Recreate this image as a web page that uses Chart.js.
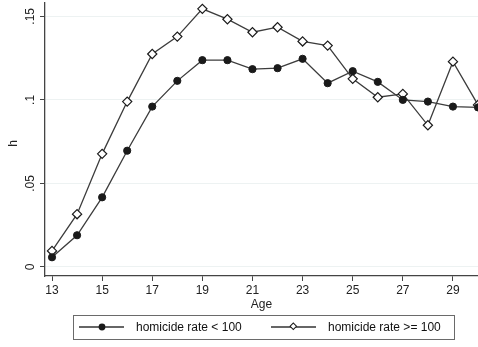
<!DOCTYPE html>
<html>
<head>
<meta charset="utf-8">
<script src="https://cdn.jsdelivr.net/npm/chart.js@4"></script>
<style>
  html, body { margin: 0; padding: 0; background: #fff; }
  #wrap { position: relative; width: 478px; height: 347px; overflow: hidden; }
  #legend {
    position: absolute; left: 73px; top: 315px; width: 382px; height: 25px;
    border: 1.5px solid #6a6a6a; box-sizing: border-box;
    font: 12px "Liberation Sans", Arial, sans-serif; color: #111;
  }
  #legend .item { position: absolute; top: 0; height: 22px; display: flex; align-items: center; }
  #legend svg { margin-right: 12px; }
</style>
</head>
<body>
<div id="wrap">
  <canvas id="chart" width="478" height="347"></canvas>
  <div id="legend"></div>
</div>
<script>
// ================= DATA =================
const ages = [13, 14, 15, 16, 17, 18, 19, 20, 21, 22, 23, 24, 25, 26, 27, 28, 29, 30];
const lowRate = [0.0058, 0.019, 0.0417, 0.0696, 0.096, 0.1114, 0.1238, 0.1238, 0.1184, 0.119,
                 0.1246, 0.110, 0.1172, 0.1108, 0.100, 0.099, 0.096, 0.0955];
const highRate = [0.0096, 0.0316, 0.0677, 0.099, 0.1275, 0.1379, 0.1545, 0.1483, 0.1405, 0.1435,
                  0.135, 0.1325, 0.1126, 0.1016, 0.1036, 0.0848, 0.1229, 0.097];
const xTicks = [13, 15, 17, 19, 21, 23, 25, 27, 29];
const yTicks = [0, 0.05, 0.1, 0.15];
const yTickLabels = ["0", ".05", ".1", ".15"];
const seriesNames = ["homicide rate < 100", "homicide rate >= 100"];

const FONT = '"Liberation Sans", Arial, sans-serif';
const LINE = "#3c3c3c";
const INK = "#1a1a1a";

// ================= ROTATED Y LABELS =================
const yLabelsPlugin = {
  id: "yLabels",
  afterDraw(chart) {
    const ctx = chart.ctx;
    const y = chart.scales.y;
    ctx.save();
    ctx.fillStyle = "#222";
    ctx.font = "12px " + FONT;
    ctx.textAlign = "center";
    ctx.textBaseline = "middle";
    yTicks.forEach((v, i) => {
      ctx.save();
      ctx.translate(31, y.getPixelForValue(v));
      ctx.rotate(-Math.PI / 2);
      ctx.fillText(yTickLabels[i], 0, 0);
      ctx.restore();
    });
    ctx.translate(14, (y.top + y.bottom) / 2 + 4);
    ctx.rotate(-Math.PI / 2);
    ctx.fillText("h", 0, 0);
    ctx.restore();
  }
};

// ================= CHART =================
new Chart(document.getElementById("chart"), {
  type: "line",
  data: {
    datasets: [
      {
        label: seriesNames[0],
        data: ages.map((a, i) => ({ x: a, y: lowRate[i] })),
        borderColor: LINE,
        borderWidth: 1.3,
        pointStyle: "circle",
        pointRadius: 3.6,
        pointBackgroundColor: INK,
        pointBorderColor: INK,
        pointBorderWidth: 1,
        clip: false
      },
      {
        label: seriesNames[1],
        data: ages.map((a, i) => ({ x: a, y: highRate[i] })),
        borderColor: LINE,
        borderWidth: 1.3,
        pointStyle: "rectRot",
        pointRadius: 4.6,
        pointBackgroundColor: "#fff",
        pointBorderColor: INK,
        pointBorderWidth: 1.2,
        clip: false
      }
    ]
  },
  options: {
    responsive: false,
    animation: false,
    layout: { autoPadding: false, padding: { top: 3, right: 0, bottom: 35, left: 0 } },
    plugins: { legend: { display: false }, tooltip: { enabled: false } },
    scales: {
      x: {
        type: "linear",
        min: 12.72,
        max: 30,
        afterBuildTicks: s => { s.ticks = xTicks.map(v => ({ value: v })); },
        afterFit: s => { s.height = 36; s.paddingLeft = 0; s.paddingRight = 0; },
        ticks: { color: "#222", font: { family: FONT, size: 12 }, padding: 2, maxRotation: 0 },
        grid: { drawOnChartArea: false, drawTicks: true, tickLength: 5, tickColor: "#444", tickWidth: 1 },
        border: { color: "#444", width: 1.3 },
        title: { display: true, text: "Age", color: "#222", font: { family: FONT, size: 12 }, padding: { top: 0, bottom: 0 } }
      },
      y: {
        min: -0.0054,
        max: 0.158,
        afterBuildTicks: s => { s.ticks = yTicks.map(v => ({ value: v })); },
        afterFit: s => { s.width = 45; s.paddingTop = 0; s.paddingBottom = 0; },
        ticks: { color: "rgba(0,0,0,0)", font: { family: FONT, size: 12 } },
        grid: { color: "#edf2f2", lineWidth: 1, drawTicks: true, tickLength: 5, tickColor: "#444", tickWidth: 1 },
        border: { color: "#444", width: 1.3 }
      }
    }
  },
  plugins: [yLabelsPlugin]
});

// ================= LEGEND =================
function symbol(kind) {
  const marker = kind === "circle"
    ? '<circle cx="23" cy="5" r="3.4" fill="#1a1a1a"/>'
    : '<rect x="20" y="2" width="4.6" height="4.6" transform="rotate(45 22.3 4.3)" fill="#fff" stroke="#1a1a1a" stroke-width="1"/>';
  return '<svg width="45" height="10"><line x1="0" y1="5" x2="45" y2="5" stroke="#333" stroke-width="1.3"/>' + marker + '</svg>';
}
const legend = document.getElementById("legend");
const items = [
  { left: 5, kind: "circle", text: seriesNames[0] },
  { left: 197, kind: "diamond", text: seriesNames[1] }
];
items.forEach(it => {
  const d = document.createElement("div");
  d.className = "item";
  d.style.left = it.left + "px";
  d.innerHTML = symbol(it.kind) + "<span>" + it.text.replace("<", "&lt;").replace(">", "&gt;") + "</span>";
  legend.appendChild(d);
});
</script>
</body>
</html>
